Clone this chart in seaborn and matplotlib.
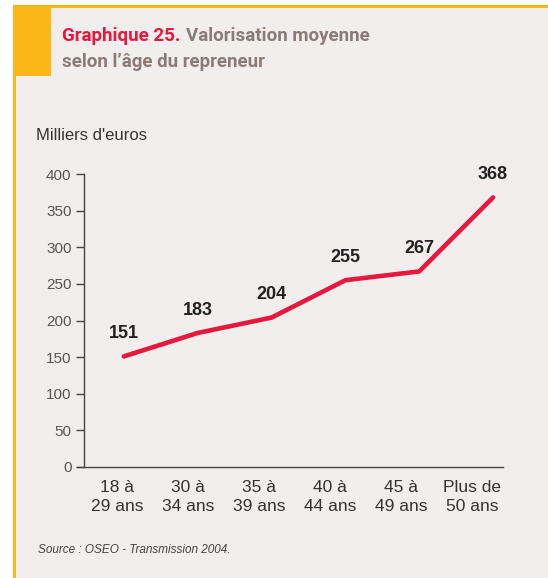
import matplotlib
matplotlib.use("Agg")
import matplotlib.pyplot as plt
from matplotlib.patches import Rectangle
import seaborn as sns
import pandas as pd

# données
categories = ["18 à\n29 ans", "30 à\n34 ans", "35 à\n39 ans",
              "40 à\n44 ans", "45 à\n49 ans", "Plus de\n50 ans"]
valeurs = [151, 183, 204, 255, 267, 368]
yticks = [0, 50, 100, 150, 200, 250, 300, 350, 400]

BG = "#f2eeee"
ORANGE = "#fbb717"
RED = "#e8173c"
TITLE_GREY = "#8a7b77"
TXT = "#333333"

sns.set_theme(style="white")
plt.rcParams["font.family"] = ["Liberation Sans", "DejaVu Sans"]

df = pd.DataFrame({"age": categories, "valeur": valeurs})

fig = plt.figure(figsize=(5.48, 5.78), dpi=100)
fig.patch.set_facecolor("white")

W, H = 548, 578
# fond et cadre orange
fig.patches.append(Rectangle((14 / W, 0), 1, 1 - 6 / H, transform=fig.transFigure,
                             facecolor=BG, edgecolor="none", zorder=-3))
fig.patches.append(Rectangle((13 / W, 1 - 8 / H), 1, 3 / H, transform=fig.transFigure,
                             facecolor=ORANGE, edgecolor="none", zorder=-2))
fig.patches.append(Rectangle((13 / W, 0), 3 / W, 1 - 5 / H, transform=fig.transFigure,
                             facecolor=ORANGE, edgecolor="none", zorder=-2))
fig.patches.append(Rectangle((13 / W, 1 - 76 / H), 38 / W, 71 / H, transform=fig.transFigure,
                             facecolor=ORANGE, edgecolor="none", zorder=-2))

ax = fig.add_axes([84 / W, 1 - 467 / H, (503 - 84) / W, (467 - 174) / H])
ax.set_facecolor("none")

sns.lineplot(data=df, x="age", y="valeur", ax=ax, color=RED, linewidth=3.3,
             sort=False, solid_capstyle="round", solid_joinstyle="miter")

for i, v in enumerate(valeurs):
    ax.annotate(str(v), (i, v), xytext=(0, 16.5), textcoords="offset points",
                ha="center", va="center", fontsize=13, fontweight="bold",
                color="#222222")

ax.set_xlim(-0.54, 5.135)
ax.set_ylim(0, 400)
ax.set_yticks(yticks)
# les libellés de l'original sont un peu plus serrés que les points
ax.set_xticks([-0.088 + 0.96 * i for i in range(len(categories))])
ax.set_xticklabels(categories, fontsize=12.5, color=TXT, linespacing=1.32)
ax.tick_params(axis="y", length=6, width=1, color="#444444", labelsize=11,
               labelcolor="#555555", pad=3, left=True)
ax.tick_params(axis="x", length=0, pad=9.5)
ax.set_xlabel("")
ax.set_ylabel("")
for s in ["top", "right"]:
    ax.spines[s].set_visible(False)
for s in ["left", "bottom"]:
    ax.spines[s].set_color("#444444")
    ax.spines[s].set_linewidth(1)
ax.spines["bottom"].set_bounds(-0.54 - 7 / 73.8, 5.135)

# titres
title_font = ["Liberation Sans Narrow", "Roboto", "Liberation Sans"]
fig.text(62 / W, 1 - 36 / H, "Graphique 25.", fontsize=13.5, fontweight="bold",
         color=RED, va="center", ha="left", family=title_font)
fig.text(186 / W, 1 - 36 / H, "Valorisation moyenne", fontsize=13.5, fontweight="bold",
         color=TITLE_GREY, va="center", ha="left", family=title_font)
fig.text(62 / W, 1 - 62 / H, "selon l’âge du repreneur", fontsize=13.5, fontweight="bold",
         color=TITLE_GREY, va="center", ha="left", family=title_font)
fig.text(36 / W, 1 - 135 / H, "Milliers d'euros", fontsize=12, color=TXT,
         va="center", ha="left")
fig.text(38 / W, 1 - 550 / H, "Source : OSEO - Transmission 2004.", fontsize=8.5,
         style="italic", color="#444444", va="center", ha="left")

fig.savefig("out.png", dpi=100, facecolor=fig.get_facecolor())
